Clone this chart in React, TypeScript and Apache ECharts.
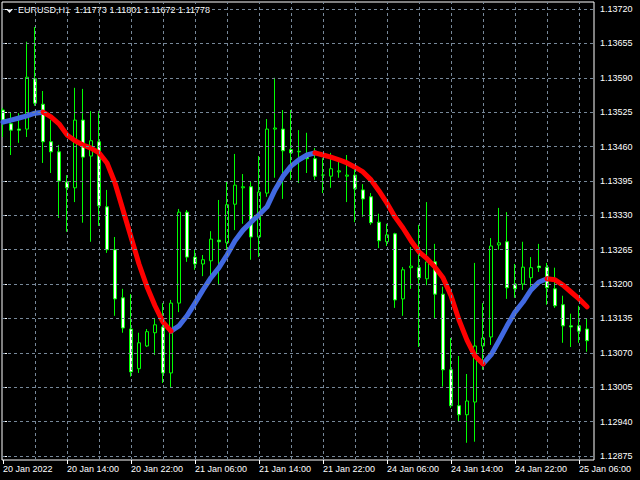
import React, { useEffect, useRef } from "react";
import * as echarts from "echarts";

const openP = [1.13529, 1.13503, 1.13493, 1.13493, 1.13588, 1.1354, 1.13469, 1.1345, 1.13393, 1.13382, 1.1351, 1.13442, 1.13469, 1.13346, 1.13265, 1.13174, 1.13115, 1.1304, 1.13083, 1.13108, 1.13119, 1.13032, 1.13164, 1.13336, 1.13251, 1.13238, 1.13244, 1.13283, 1.13278, 1.13351, 1.13382, 1.13384, 1.13289, 1.13372, 1.13493, 1.13493, 1.13454, 1.1345, 1.13444, 1.13437, 1.13406, 1.13404, 1.13412, 1.13404, 1.13406, 1.13378, 1.13365, 1.13317, 1.1328, 1.13295, 1.13172, 1.13231, 1.13231, 1.1321, 1.13242, 1.13181, 1.13038, 1.1297, 1.12953, 1.12977, 1.13083, 1.131, 1.13274, 1.1328, 1.132, 1.132, 1.13212, 1.13234, 1.13232, 1.13191, 1.13161, 1.13121, 1.13121, 1.13115];
const highP = [1.13533, 1.13525, 1.13523, 1.13658, 1.13686, 1.13565, 1.1351, 1.13463, 1.13406, 1.13571, 1.13569, 1.13527, 1.13527, 1.13378, 1.13289, 1.13191, 1.13181, 1.13108, 1.13115, 1.13136, 1.13164, 1.1317, 1.13342, 1.1334, 1.13265, 1.13255, 1.133, 1.13359, 1.13393, 1.13446, 1.13408, 1.13393, 1.13442, 1.13512, 1.1359, 1.13529, 1.13529, 1.13491, 1.13486, 1.13457, 1.13438, 1.13448, 1.13435, 1.13444, 1.13419, 1.13389, 1.13372, 1.13333, 1.13314, 1.13297, 1.13232, 1.1327, 1.13312, 1.13355, 1.13276, 1.13195, 1.13098, 1.13064, 1.1303, 1.1324, 1.13164, 1.13287, 1.13344, 1.13336, 1.13238, 1.1328, 1.13251, 1.13276, 1.1324, 1.13231, 1.13178, 1.13144, 1.13159, 1.13134];
const lowP = [1.13478, 1.13444, 1.13467, 1.13478, 1.13537, 1.13429, 1.1341, 1.13325, 1.13299, 1.13355, 1.13316, 1.1328, 1.1331, 1.13259, 1.1314, 1.13108, 1.13025, 1.13032, 1.13081, 1.13066, 1.13013, 1.13004, 1.13147, 1.13242, 1.13227, 1.13215, 1.13208, 1.13198, 1.13265, 1.13302, 1.13314, 1.13246, 1.13251, 1.13365, 1.13401, 1.13361, 1.13397, 1.13391, 1.1341, 1.13397, 1.13372, 1.13382, 1.13401, 1.13355, 1.13317, 1.13327, 1.13312, 1.13268, 1.13272, 1.13155, 1.1314, 1.13191, 1.13081, 1.13198, 1.13134, 1.13006, 1.12966, 1.12941, 1.129, 1.12902, 1.13038, 1.13085, 1.13265, 1.13172, 1.13174, 1.13189, 1.13195, 1.13223, 1.13161, 1.13155, 1.13089, 1.13081, 1.13089, 1.13072];
const closeP = [1.1351, 1.13491, 1.13491, 1.13591, 1.13542, 1.13469, 1.1345, 1.13395, 1.13382, 1.1351, 1.1344, 1.13471, 1.13348, 1.13265, 1.13172, 1.13117, 1.13034, 1.13089, 1.1311, 1.13123, 1.13032, 1.13164, 1.13336, 1.13251, 1.13238, 1.13246, 1.13285, 1.1328, 1.1335, 1.13387, 1.13384, 1.13289, 1.13374, 1.13493, 1.13495, 1.13452, 1.13448, 1.13451, 1.13437, 1.13404, 1.13406, 1.13418, 1.13414, 1.13406, 1.1338, 1.13361, 1.13316, 1.13282, 1.13293, 1.1317, 1.13227, 1.13234, 1.13212, 1.13242, 1.13181, 1.13038, 1.1297, 1.12953, 1.12979, 1.13083, 1.13098, 1.13272, 1.13278, 1.13193, 1.13191, 1.13232, 1.13231, 1.13231, 1.13193, 1.13159, 1.13121, 1.13119, 1.13111, 1.13093];
const maP = [1.13506, 1.1351, 1.13514, 1.13518, 1.13523, 1.13525, 1.13516, 1.13503, 1.13482, 1.13471, 1.13463, 1.13457, 1.13448, 1.13429, 1.13391, 1.1334, 1.13289, 1.13238, 1.13195, 1.13159, 1.13128, 1.13111, 1.13121, 1.1314, 1.13164, 1.13189, 1.13212, 1.13231, 1.13255, 1.13282, 1.13302, 1.13317, 1.13331, 1.13346, 1.13378, 1.13404, 1.13423, 1.13435, 1.13444, 1.13448, 1.13444, 1.1344, 1.13435, 1.13429, 1.13421, 1.13412, 1.13397, 1.13376, 1.13353, 1.13327, 1.13306, 1.13282, 1.13261, 1.13248, 1.13232, 1.13212, 1.13178, 1.13132, 1.13094, 1.13064, 1.13049, 1.13066, 1.13093, 1.13121, 1.13147, 1.13166, 1.13189, 1.13204, 1.1321, 1.13208, 1.13198, 1.13185, 1.13172, 1.13157];

const timeTickBars = [0, 8, 16, 24, 32, 40, 48, 56, 64, 72];
const timeTickLabels = ["20 Jan 2022", "20 Jan 14:00", "20 Jan 22:00", "21 Jan 06:00", "21 Jan 14:00", "21 Jan 22:00", "24 Jan 06:00", "24 Jan 14:00", "24 Jan 22:00", "25 Jan 06:00"];
const gridBars = [4, 8, 12, 16, 20, 24, 28, 32, 36, 40, 44, 48, 52, 56, 60, 64, 68, 72];
const priceTicks = [1.1372, 1.13655, 1.1359, 1.13525, 1.1346, 1.13395, 1.1333, 1.13265, 1.132, 1.13135, 1.1307, 1.13005, 1.1294, 1.12875];
const headerText = "EURUSD,H1  1.11773 1.11801 1.11672 1.11778";

const FONT = "Liberation Sans";
const GRID_COLOR = "#778899";

export default function App() {
  const ref = useRef<HTMLDivElement>(null);
  useEffect(() => {
    document.body.style.margin = "0";
    const chart = echarts.init(ref.current!, null, { renderer: "svg" });
    const candles = openP.map((o, i) => [i, o, closeP[i], lowP[i], highP[i]]);
    const rising = (i: number) => i + 1 < maP.length && maP[i + 1] > maP[i];
    const falling = (i: number) => i + 1 < maP.length && maP[i + 1] <= maP[i];
    const blue = maP.map((v, i) => [i, rising(i) || (i > 0 && rising(i - 1)) ? v : null]);
    const red = maP.map((v, i) => [i, falling(i) || (i > 0 && falling(i - 1)) ? v : null]);
    const gridLineStyle = { color: GRID_COLOR, type: [3, 3] as any, width: 1 };
    const xMin = -0.125;
    const xMax = 73.875;
    chart.setOption({
      animation: false,
      backgroundColor: "#000000",
      grid: {
        left: 2, top: 2, width: 592, height: 458,
        show: true, borderColor: "#ffffff", borderWidth: 1, backgroundColor: "transparent",
        containLabel: false, outerBoundsMode: "none",
      },
      xAxis: {
        type: "value", min: xMin, max: xMax,
        axisLine: { show: false },
        splitLine: { show: false },
        axisTick: { show: true, customValues: timeTickBars, length: 4, lineStyle: { color: "#ffffff" } },
        axisLabel: {
          show: true, customValues: timeTickBars, align: "left", margin: 4,
          color: "#ffffff", fontSize: 9, fontFamily: FONT,
          formatter: (v: number) => timeTickLabels[timeTickBars.indexOf(Math.round(v))] ?? "",
        },
      },
      yAxis: {
        type: "value", position: "right", min: 1.1286744, max: 1.1373323, scale: true,
        axisLine: { show: false },
        splitLine: { show: false },
        axisTick: { show: true, customValues: priceTicks, length: 4, lineStyle: { color: "#ffffff" } },
        axisLabel: {
          show: true, customValues: priceTicks, margin: 6,
          color: "#ffffff", fontSize: 9, fontFamily: FONT,
          formatter: (v: number) => v.toFixed(5),
        },
      },
      series: [
        {
          type: "line",
          data: closeP.map((c, i) => [i, c]),
          showSymbol: false, silent: true,
          lineStyle: { opacity: 0 },
          markLine: {
            silent: true, symbol: "none", animation: false, precision: 5,
            label: { show: false },
            lineStyle: gridLineStyle,
            data: [
              ...gridBars.map((b) => ({ xAxis: b })),
              ...priceTicks.map((p) => [{ coord: [xMin, p] }, { coord: [xMax, p] }]),
            ],
          },
          z: 1,
        },
        {
          type: "candlestick",
          data: candles,
          barWidth: 4,
          itemStyle: {
            color: "#000000", color0: "#ffffff",
            borderColor: "#00ff00", borderColor0: "#00ff00", borderWidth: 1,
          },
          z: 2,
        },
        {
          type: "line", data: blue, showSymbol: false, connectNulls: false,
          lineStyle: { color: "#4169e1", width: 5, cap: "round", join: "round" },
          z: 3,
        },
        {
          type: "line", data: red, showSymbol: false, connectNulls: false,
          lineStyle: { color: "#ff0000", width: 5, cap: "round", join: "round" },
          z: 3,
        },
      ],
      graphic: [
        { type: "polygon", shape: { points: [[6, 9], [13, 9], [9.5, 13]] }, style: { fill: "#ffffff" } },
        { type: "text", x: 18, y: 5, style: { text: headerText, fill: "#ffffff", font: `9px "${FONT}"` } },
      ],
    });
    return () => chart.dispose();
  }, []);
  return <div ref={ref} style={{ position: "fixed", left: 0, top: 0, width: 640, height: 480, background: "#000" }} />;
}
